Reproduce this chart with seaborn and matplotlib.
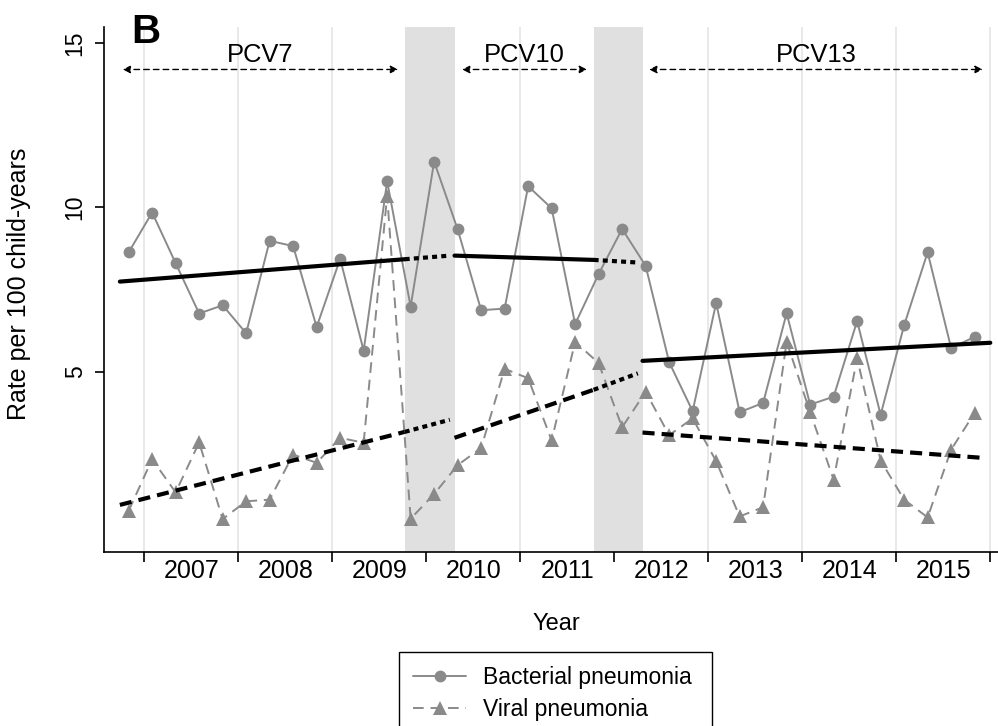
"""Quarterly pneumonia rates by vaccine period (panel B)."""

import matplotlib

matplotlib.use("Agg")
import matplotlib.pyplot as plt  # noqa: E402
import numpy as np  # noqa: E402
import pandas as pd  # noqa: E402
import seaborn as sns  # noqa: E402

# --- data ------------------------------------------------------------------
quarters = pd.period_range("2006Q4", "2015Q4", freq="Q")

bacterial = [8.63, 9.84, 8.30, 6.77, 7.02, 6.17, 8.98, 8.82, 6.36, 8.43,
             5.64, 10.79, 6.98, 11.39, 9.33, 6.87, 6.92, 10.64, 9.97, 6.45,
             7.97, 9.34, 8.22, 5.29, 3.80, 7.09, 3.77, 4.05, 6.78, 4.00,
             4.24, 6.54, 3.69, 6.41, 8.63, 5.72, 6.06]
viral = [0.77, 2.34, 1.33, 2.85, 0.52, 1.06, 1.11, 2.48, 2.23, 2.99,
         2.84, 10.35, 0.53, 1.28, 2.16, 2.68, 5.09, 4.80, 2.91, 5.91,
         5.26, 3.31, 4.39, 3.07, 3.58, 2.28, 0.60, 0.88, 5.91, 3.77,
         1.72, 5.41, 2.30, 1.11, 0.57, 2.63, 3.75]

# segmented regression fits (start/end of each segment)
bact_fit_x = [[2006.74, 2009.77], [2010.30, 2011.78], [2012.30, 2016.00]]
bact_fit_y = [[7.74, 8.42], [8.53, 8.40], [5.33, 5.88]]
bact_gap_x = [[2009.77, 2010.25], [2011.78, 2012.25]]
bact_gap_y = [[8.42, 8.53], [8.40, 8.32]]

viral_fit_x = [[2006.74, 2009.77], [2010.30, 2011.78], [2012.30, 2015.92]]
viral_fit_y = [[0.95, 3.17], [2.99, 4.45], [3.15, 2.38]]
viral_gap_x = [[2009.77, 2010.25], [2011.78, 2012.25]]
viral_gap_y = [[3.17, 3.54], [4.45, 4.95]]

# transition periods (shaded) and vaccine eras (arrows)
transition_start = [2009.77, 2011.78]
transition_end = [2010.30, 2012.30]
vaccine_names = ["PCV7", "PCV10", "PCV13"]
vaccine_start = [2006.77, 2010.38, 2012.37]
vaccine_end = [2009.70, 2011.71, 2015.92]

years = list(range(2007, 2017))
year_labels = [str(y) for y in range(2007, 2016)]
y_ticks = [5, 10, 15]

GRAY = "#8a8a8a"
SHADE = "#e0e0e0"

sns.set_theme(style="white")
plt.rcParams["font.family"] = ["Liberation Sans", "DejaVu Sans"]
plt.rcParams.update({"text.color": "black", "axes.labelcolor": "black",
                     "xtick.color": "black", "ytick.color": "black"})

# quarterly points sit on the middle month of each quarter
mid_month = quarters.asfreq("M", how="start") + 1
time = np.asarray(mid_month.year + (mid_month.month - 1) / 12.0, dtype=float)
df = pd.DataFrame({"time": time, "bacterial": bacterial, "viral": viral})

fig = plt.figure(figsize=(9.98, 7.26), dpi=100)
ax = fig.add_axes([0.1042, 0.2393, 0.8958, 0.7239])

for s, e in zip(transition_start, transition_end):
    ax.axvspan(s, e, color=SHADE, lw=0, zorder=1)

sns.lineplot(data=df, x="time", y="bacterial", ax=ax, color=GRAY, lw=1.4,
             marker="o", markersize=8.5, mew=0, errorbar=None, legend=False,
             label="Bacterial pneumonia", zorder=3)
sns.lineplot(data=df, x="time", y="viral", ax=ax, color=GRAY, lw=1.4,
             linestyle=(0, (5.5, 3.5)), marker="^", markersize=9.5, mew=0,
             errorbar=None, legend=False, label="Viral pneumonia", zorder=3)

for xs, ys in zip(bact_fit_x, bact_fit_y):
    ax.plot(xs, ys, color="black", lw=3, solid_capstyle="round", zorder=4)
for xs, ys in zip(bact_gap_x, bact_gap_y):
    ax.plot(xs, ys, color="black", lw=3, linestyle=(0, (1.2, 1.0)), zorder=4)
for xs, ys in zip(viral_fit_x, viral_fit_y):
    ax.plot(xs, ys, color="black", lw=3, linestyle=(0, (2.9, 1.7)), zorder=4)
for xs, ys in zip(viral_gap_x, viral_gap_y):
    ax.plot(xs, ys, color="black", lw=3, linestyle=(0, (1.2, 1.0)), zorder=4)

for name, s, e in zip(vaccine_names, vaccine_start, vaccine_end):
    ax.annotate("", xy=(e, 14.19), xytext=(s, 14.19),
                arrowprops=dict(arrowstyle="<|-|>", color="black", lw=1,
                                linestyle=(0, (4, 3)), mutation_scale=11,
                                shrinkA=0, shrinkB=0))
    ax.text((s + e) / 2, 14.42, name, ha="center", va="baseline",
            fontsize=18.4)

ax.text(2006.866, 14.98, "B", fontsize=29, fontweight="bold",
        ha="left", va="baseline")

ax.set_xlim(2006.571, 2016.082)
ax.set_ylim(-0.49, 15.49)

ax.set_xticks(years)
ax.set_xticklabels([])
ax.set_xticks([y + 0.5 for y in range(2007, 2016)], minor=True)
ax.set_xticklabels(year_labels, minor=True, fontsize=18)
ax.tick_params(axis="x", which="major", direction="out", length=7, width=1.2,
               color="black", bottom=True)
ax.tick_params(axis="x", which="minor", length=0, pad=5, bottom=True)

ax.set_yticks(y_ticks)
ax.set_yticklabels([str(v) for v in y_ticks], fontsize=16.5, rotation=90,
                   va="center")
ax.tick_params(axis="y", direction="out", length=6.5, width=1.2,
               color="black", pad=6, left=True)

ax.grid(axis="x", which="major", color="#e3e3e3", lw=1.1)
ax.grid(axis="y", visible=False)
ax.set_axisbelow(True)

for side in ["top", "right"]:
    ax.spines[side].set_visible(False)
for side in ["left", "bottom"]:
    ax.spines[side].set_color("black")
    ax.spines[side].set_linewidth(1.2)

ax.set_ylabel("Rate per 100 child-years", fontsize=18)
ax.yaxis.set_label_coords(-0.0817, 0.51)
ax.set_xlabel("Year", fontsize=17)
ax.xaxis.set_label_coords(0.5056, -0.1155)

handles, labels = ax.get_legend_handles_labels()
leg = fig.legend(handles, labels, loc="upper left",
                 bbox_to_anchor=(0.3998, 0.0, 0.3136, 0.1023), mode="expand",
                 borderaxespad=0, fontsize=16.5, frameon=True, fancybox=False,
                 edgecolor="black", framealpha=1, borderpad=0.62,
                 handlelength=2.3, handletextpad=0.74, labelspacing=0.38)
leg.get_frame().set_linewidth(1.0)

fig.savefig("out.png", dpi=100)
plt.close(fig)
